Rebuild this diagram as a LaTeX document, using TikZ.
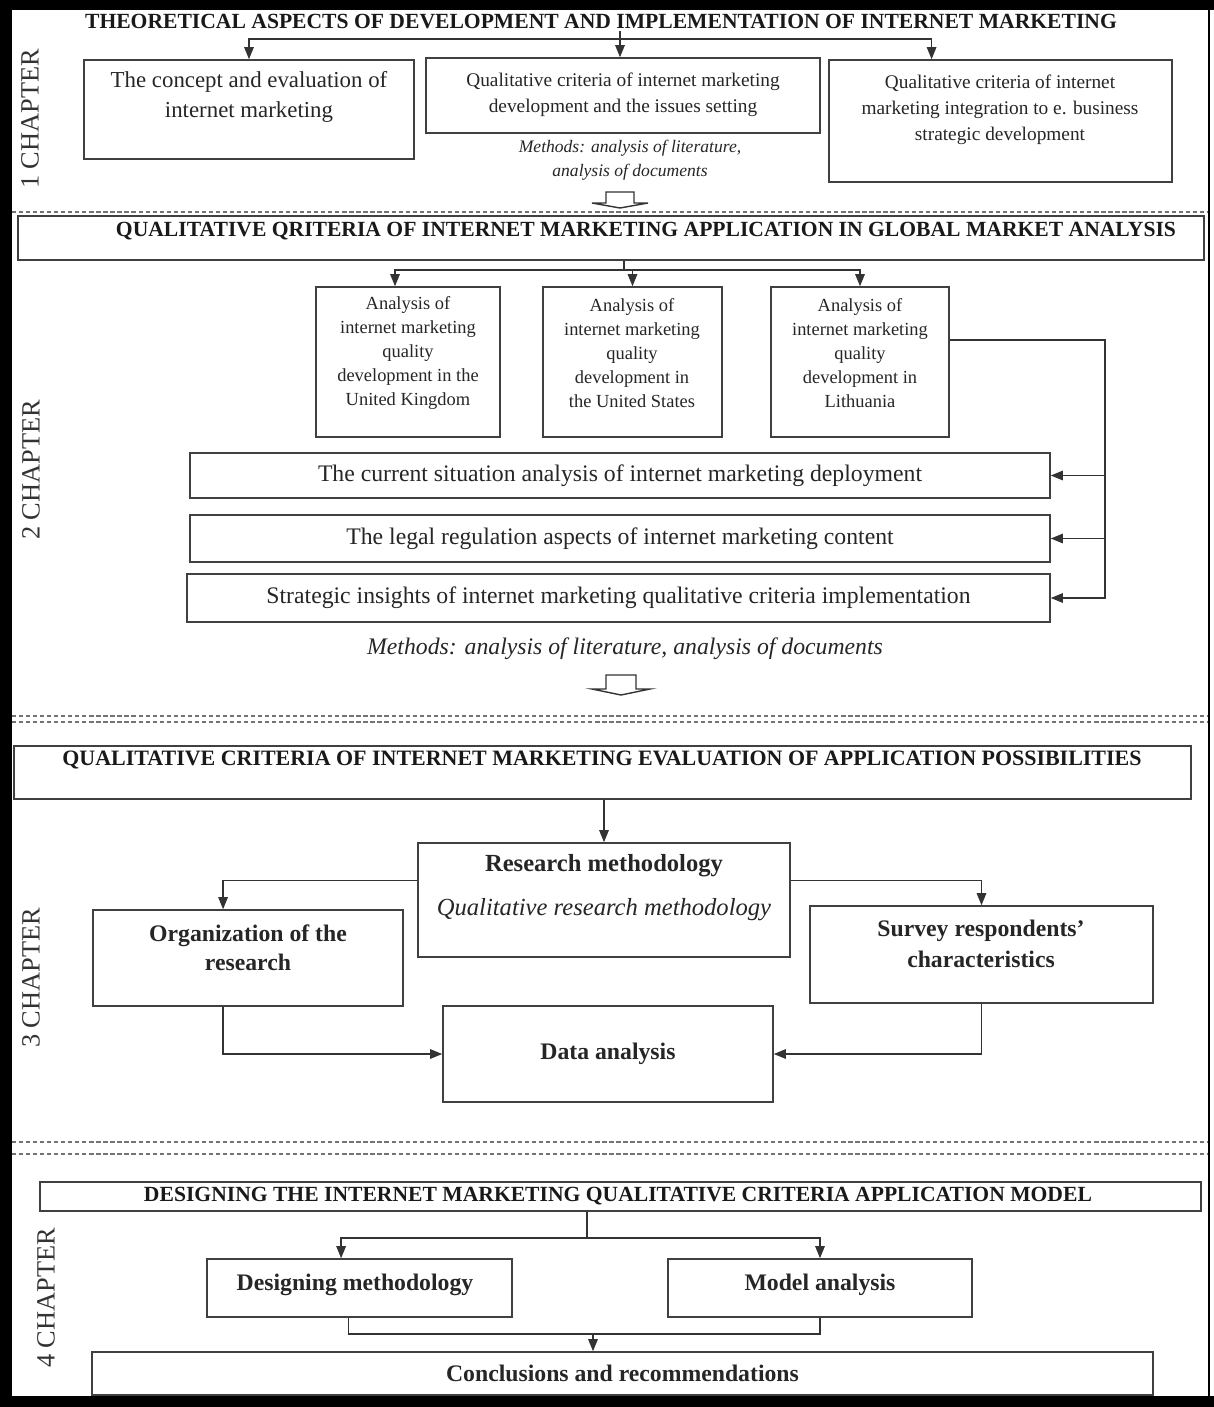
\documentclass[tikz,border=0pt]{standalone}
\usepackage{fontspec}
\setmainfont{Liberation Serif}
\usetikzlibrary{arrows.meta,positioning,fit,calc}
\tikzset{
  box/.style={draw=black!75,line width=0.9pt,inner sep=0pt},
  txt/.style={align=center,inner sep=1pt,text=black!85},
  hdr/.style={font=\fontsize{12.3}{15}\selectfont\bfseries,inner sep=1pt,text=black!90},
  cty/.style={font=\fontsize{10.5}{13.6}\selectfont},
  wide/.style={font=\fontsize{13.5}{16}\selectfont,text=black!85},
  bld/.style={font=\fontsize{13.5}{16.5}\selectfont\bfseries,text=black!85},
  arr/.style={-{Triangle[length=2.4mm,width=1.9mm]},line width=0.7pt,draw=black!80},
  ln/.style={line width=0.7pt,draw=black!80},
  chap/.style={rotate=90,font=\fontsize{15}{18}\selectfont,text=black!80},
  sep/.style={draw=black!55,line width=1.2pt,dash pattern=on 2.4pt off 1.6pt},
  harrow/.style={draw=black!80,line width=0.8pt,fill=white,line join=miter},
}
\begin{document}
\begin{tikzpicture}[x=0.02cm,y=-0.02cm]
\useasboundingbox (0,0) rectangle (1214,1407);
% frame
\fill[black] (0,0) rectangle (1214,1407);
\fill[white] (12,10) rectangle (1208,1396);
\fill[white] (1210,10) rectangle (1214,1396);

% chapter 1
\node[chap] (ch1) at (30,119) {1 CHAPTER};
\node[hdr] (t1) at (601,22) {THEORETICAL ASPECTS OF DEVELOPMENT AND IMPLEMENTATION OF INTERNET MARKETING};
\node[box,fit={(84,60) (414,159)}] (b1) {};
\node[txt,font=\fontsize{13}{17}\selectfont] (b1t) at (249,97) {The concept and evaluation of\\internet marketing};
\node[box,fit={(426,58) (820,133)}] (b2) {};
\node[txt,font=\fontsize{11}{15}\selectfont] (b2t) at (623,95) {Qualitative criteria of internet marketing\\development and the issues setting};
\node[box,fit={(829,60) (1172,182)}] (b3) {};
\node[txt,font=\fontsize{11}{14.7}\selectfont] (b3t) at (1000,110) {Qualitative criteria of internet\\marketing integration to e. business\\strategic development};
\node[txt,font=\fontsize{10}{13.6}\selectfont\itshape] (m1) at (630,160) {Methods: analysis of literature,\\analysis of documents};
\coordinate (s1) at (620,39);
\draw[arr] (t1.south -| s1) -- (s1 |- b2.north);
\draw[arr] (s1) -| (b1.north);
\draw[arr] (s1) -| ($(b3.north west)!.3!(b3.north east)$);
% hollow arrow to chapter 2
\coordinate (ha1) at (620,199);
\draw[harrow,shift={(ha1)}] (-14,-7) -- (-14,4) -- (-28,4) -- (0,9) -- (28,4) -- (14,4) -- (14,-7) -- cycle;

\draw[sep] (12,212) -- (1208,212);

% chapter 2
\node[chap] (ch2) at (31,470) {2 CHAPTER};
\node[box,fit={(18,216) (1204,260)}] (t2) {};
\node[hdr] (t2t) at (646,231) {QUALITATIVE QRITERIA OF INTERNET MARKETING APPLICATION IN GLOBAL MARKET ANALYSIS};
\node[box,fit={(316,287) (500,437)}] (c1) {};
\node[box,fit={(543,287) (722,437)}] (c2) {};
\node[box,fit={(771,287) (949,437)}] (c3) {};
\node[txt,cty] (c1t) at (408,353) {Analysis of\\internet marketing\\quality\\development in the\\United Kingdom};
\node[txt,cty] (c2t) at (632,353) {Analysis of\\internet marketing\\quality\\development in\\the United States};
\node[txt,cty] (c3t) at (860,353) {Analysis of\\internet marketing\\quality\\development in\\Lithuania};
\coordinate (s2) at (624,270);
\draw[ln] (t2.south -| s2) -- (s2);
\draw[arr] (s2) -| ($(c1.north west)!.43!(c1.north east)$);
\draw[arr] (s2) -| (c2.north);
\draw[arr] (s2) -| (c3.north);
\node[box,fit={(190,453) (1050,498)}] (w1) {};
\node[box,fit={(190,515) (1050,562)}] (w2) {};
\node[box,fit={(187,574) (1050,622)}] (w3) {};
\node[txt,wide] (w1t) at (w1) {The current situation analysis of internet marketing deployment};
\node[txt,wide] (w2t) at (w2) {The legal regulation aspects of internet marketing content};
\node[txt,wide] (w3t) at (w3) {Strategic insights of internet marketing qualitative criteria implementation};
\coordinate (r2) at (1105,340);
\draw[arr] (c3.east |- r2) -- (r2) |- (w3.east);
\draw[arr] (r2 |- w1.east) -- (w1.east);
\draw[arr] (r2 |- w2.east) -- (w2.east);
\node[txt,font=\fontsize{13.5}{16}\selectfont\itshape] (m2) at (625,649) {Methods: analysis of literature, analysis of documents};
\coordinate (ha2) at (621,684);
\draw[harrow,shift={(ha2)}] (-15,-9) -- (-15,5) -- (-29,5) -- (0,11) -- (29,5) -- (15,5) -- (15,-9) -- cycle;

\draw[sep] (12,716) -- (1208,716);
\draw[sep] (12,722) -- (1208,722);

% chapter 3
\node[chap] (ch3) at (31,978) {3 CHAPTER};
\node[box,fit={(14,746) (1191,799)}] (t3) {};
\node[hdr,font=\fontsize{12.5}{15}\selectfont\bfseries] (t3t) at (602,760) {QUALITATIVE CRITERIA OF INTERNET MARKETING EVALUATION OF APPLICATION POSSIBILITIES};
\node[box,fit={(418,843) (790,957)}] (rm) {};
\node[txt,font=\fontsize{14}{17}\selectfont] (rmt) at (604,888) {\bfseries Research methodology\\[8pt]\itshape Qualitative research methodology};
\node[box,fit={(93,910) (403,1006)}] (org) {};
\node[txt,bld] (orgt) at (248,948) {Organization of the\\research};
\node[box,fit={(810,906) (1153,1003)}] (sv) {};
\node[txt,font=\fontsize{13.5}{18}\selectfont\bfseries] (svt) at (981,944) {Survey respondents'\\characteristics};
\node[box,fit={(443,1006) (773,1102)}] (da) {};
\node[txt,bld] (dat) at (da) {Data analysis};
\draw[arr] (t3.south -| rm.north) -- (rm.north);
\draw[arr] ($(rm.north west)!.33!(rm.south west)$) -| ($(org.north west)!.42!(org.north east)$);
\draw[arr] ($(rm.north east)!.33!(rm.south east)$) -| (sv.north);
\draw[arr] ($(org.south west)!.42!(org.south east)$) |- (da.west);
\draw[arr] (sv.south) |- (da.east);

\draw[sep] (12,1142) -- (1208,1142);
\draw[sep] (12,1154) -- (1208,1154);

% chapter 4
\node[chap] (ch4) at (46,1298) {4 CHAPTER};
\node[box,fit={(40,1182) (1201,1211)}] (t4) {};
\node[hdr] (t4t) at (618,1196) {DESIGNING THE INTERNET MARKETING QUALITATIVE CRITERIA APPLICATION MODEL};
\node[box,fit={(207,1259) (512,1317)}] (dm) {};
\node[box,fit={(668,1259) (972,1317)}] (ma) {};
\node[box,fit={(92,1352) (1153,1395)}] (cr) {};
\node[txt,bld] (dmt) at (355,1285) {Designing methodology};
\node[txt,bld] (mat) at (820,1285) {Model analysis};
\node[txt,bld] (crt) at (cr) {Conclusions and recommendations};
\coordinate (s4) at (587,1238);
\draw[ln] (t4.south -| s4) -- (s4);
\draw[arr] (s4) -| ($(dm.north west)!.44!(dm.north east)$);
\draw[arr] (s4) -| (ma.north);
\coordinate (j4) at (593,1334);
\draw[ln] ($(dm.south west)!.465!(dm.south east)$) |- (j4) -| (ma.south);
\draw[arr] (j4) -- (j4 |- cr.north);
\end{tikzpicture}
\end{document}
